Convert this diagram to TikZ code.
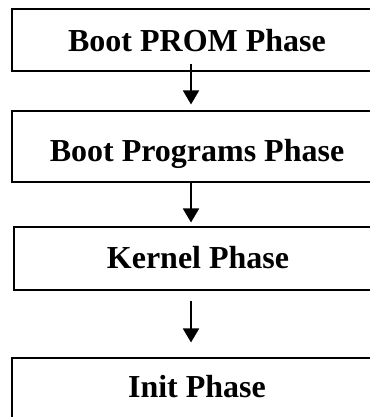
\documentclass[tikz,border=0pt]{standalone}
\usepackage{fontspec}
\setmainfont{Liberation Serif}
\usetikzlibrary{arrows.meta,positioning}

\begin{document}
\begin{tikzpicture}[
  >={Triangle[length=10.5pt, width=12pt]},
  phase/.style={rectangle, draw=black, line width=1.5pt, inner sep=0pt, outer sep=0pt,
                minimum width=277.5pt, font=\fontsize{24}{28}\selectfont\bfseries},
  link/.style={->, line width=1.4pt},
]
\useasboundingbox (0,0) rectangle (277.5pt,-312.75pt);
\clip (0,0) rectangle (277.5pt,-312.75pt);

\node[phase, anchor=north, text height=31.5pt, text depth=15pt] (prom) at (147.75pt,-7.1pt) {Boot PROM Phase};
\node[phase, below=30pt of prom, text height=37.5pt, text depth=15.75pt] (progs) {Boot Programs Phase};
\node[phase, below=33.75pt of progs, xshift=0.75pt, minimum width=276pt,
      text height=30.75pt, text depth=16.5pt] (kernel) {Kernel Phase};
\node[phase, below=51pt of kernel, xshift=-0.75pt, text height=29.25pt, text depth=22.5pt] (init) {Init Phase};

\draw[link] ([xshift=-4.5pt, yshift=5.25pt]prom.south) -- ([xshift=-4.5pt, yshift=5.25pt]progs.north);
\draw[link] ([xshift=-4.5pt]progs.south) -- ([xshift=-5.25pt, yshift=3.75pt]kernel.north);
\draw[link] ([xshift=-5.25pt, yshift=-8.25pt]kernel.south) -- ([xshift=-4.5pt, yshift=12pt]init.north);

\end{tikzpicture}
\end{document}
